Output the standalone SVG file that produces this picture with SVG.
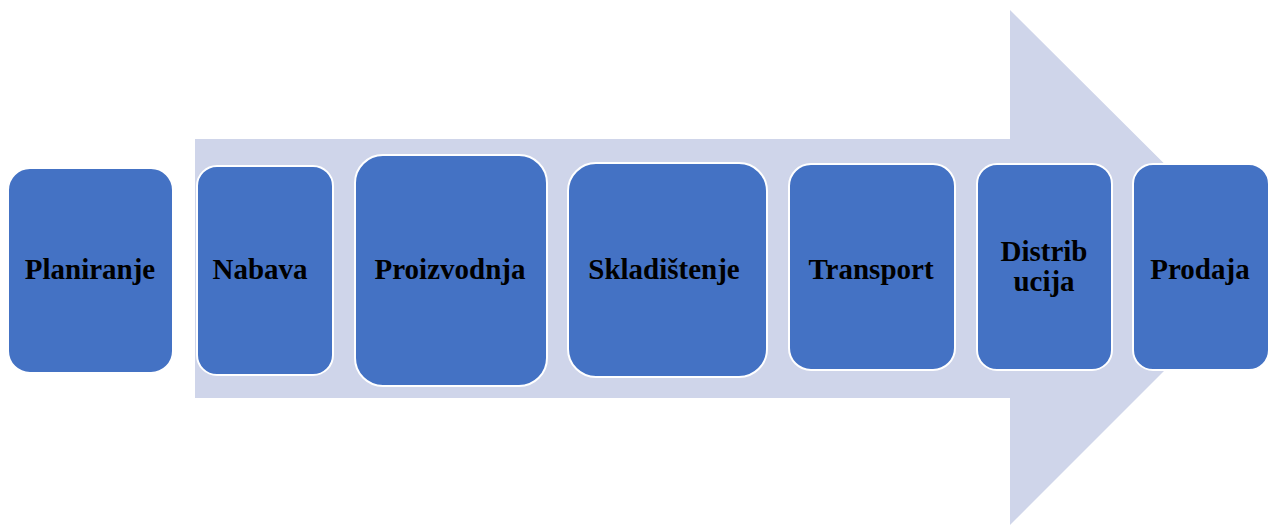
<svg xmlns="http://www.w3.org/2000/svg" width="1276" height="529" viewBox="0 0 1276 529">
<style>
.box{fill:#4472C4;stroke:#FFFFFF;stroke-width:2}
.lbl{font-family:"Liberation Serif","Times New Roman",serif;font-weight:bold;font-size:29px;fill:#000000;text-anchor:middle}
</style>
<rect width="1276" height="529" fill="#FFFFFF"/>
<g id="connectors">
<polygon points="195,139 1010,139 1010,10 1268,267 1010,525 1010,398 195,398" fill="#CFD5EA"/>
</g>
<g id="planiranje"><rect class="box" x="8" y="168" width="165" height="205" rx="22"/><text class="lbl" x="90" y="279">Planiranje</text></g>
<g id="nabava"><rect class="box" x="197" y="166" width="136" height="209" rx="20"/><text class="lbl" x="260" y="279">Nabava</text></g>
<g id="proizvodnja"><rect class="box" x="355" y="155" width="192" height="231" rx="28"/><text class="lbl" x="450" y="279">Proizvodnja</text></g>
<g id="skladistenje"><rect class="box" x="568" y="163" width="199" height="214" rx="28"/><text class="lbl" x="664" y="279">Skladištenje</text></g>
<g id="transport"><rect class="box" x="789" y="164" width="166" height="206" rx="22"/><text class="lbl" x="871" y="279">Transport</text></g>
<g id="distribucija"><rect class="box" x="977" y="164" width="135" height="206" rx="20"/><text class="lbl" x="1044" y="261">Distrib</text><text class="lbl" x="1044" y="291">ucija</text></g>
<g id="prodaja"><rect class="box" x="1133" y="164" width="136" height="206" rx="20"/><text class="lbl" x="1200" y="279">Prodaja</text></g>
</svg>
